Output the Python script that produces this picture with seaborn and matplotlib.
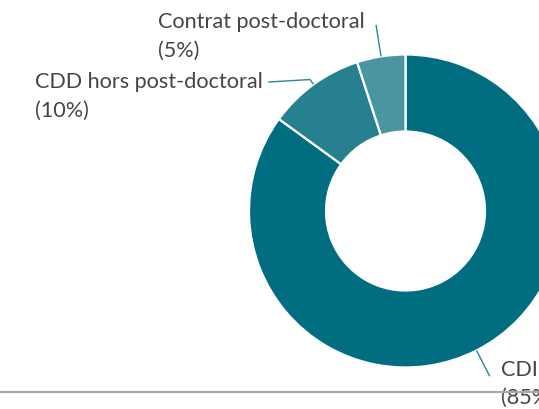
import numpy as np
import matplotlib
matplotlib.use("Agg")
import matplotlib.pyplot as plt
import seaborn as sns

# ---- data ----
categories = ["CDI", "CDD hors post-doctoral", "Contrat post-doctoral"]
shares = [85, 10, 5]
colors = ["#006d80", "#268090", "#4b95a3"]

sns.set_theme(style="white")
plt.rcParams["font.family"] = ["Lato", "DejaVu Sans"]

W, H = 539, 409
fig = plt.figure(figsize=(W / 100, H / 100), dpi=100)
ax = fig.add_axes([0, 0, 1, 1])

cx, cy = 405.5, H - 211
R, ring = 156.5, 77
wedges, _ = ax.pie(shares, colors=colors, startangle=90, counterclock=False,
                   radius=R, center=(cx, cy),
                   wedgeprops=dict(width=ring, edgecolor="white", linewidth=1.6))
ax.set_xlim(0, W)
ax.set_ylim(0, H)
ax.set_aspect("equal")
ax.axis("off")

txt_color = "#454545"
lead_color = "#2b8595"
fs = 15.6

# label layout: (x_left, first-baseline pixel y, radial leader length, elbow x)
layout = {
    "CDI": (501.5, 375.7, 29, None),
    "CDD hors post-doctoral": (35, 88.3, 6, 268.3),
    "Contrat post-doctoral": (158, 28.3, 32, None),
}
line_gap = 28.4

for w, cat, s in zip(wedges, categories, shares):
    ang = np.deg2rad((w.theta1 + w.theta2) / 2)
    x0, y0 = cx + R * np.cos(ang), cy + R * np.sin(ang)
    xl, yb, L, elbow = layout[cat]
    x1, y1 = x0 + L * np.cos(ang), y0 + L * np.sin(ang)
    xs, ys = [x0, x1], [y0, y1]
    if elbow is not None:
        xs.append(elbow)
        ys.append(y1 - 2.5)
    ax.plot(xs, ys, color=lead_color, lw=1.0, solid_capstyle="butt")
    ax.text(xl, H - yb, cat, fontsize=fs, color=txt_color, va="baseline", ha="left")
    ax.text(xl, H - yb - line_gap, f"({s}%)", fontsize=fs, color=txt_color,
            va="baseline", ha="left")

ax.plot([0, W], [H - 391.7, H - 391.7], color="#a9a9a9", lw=1.5, zorder=5)

fig.savefig("out.png", dpi=100)
